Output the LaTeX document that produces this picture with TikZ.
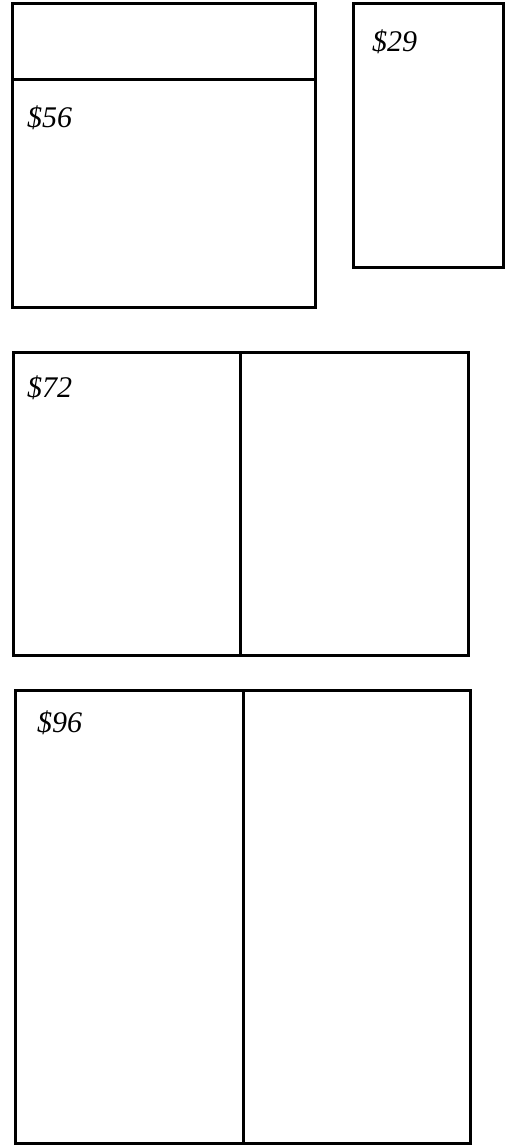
\documentclass[tikz,border=0pt]{standalone}
\usepackage{fontspec}
\setmainfont{Liberation Serif}
\usetikzlibrary{positioning}
\tikzstyle{panel} = [rectangle, draw=black, line width=3pt, inner sep=0pt]
\tikzstyle{price} = [anchor=base west, inner sep=0pt, font=\fontsize{30}{36}\selectfont\itshape]
\tikzstyle{divider} = [line width=3pt]

\begin{document}
\begin{tikzpicture}[x=1pt, y=-1pt]
        \useasboundingbox (0,0) rectangle (506,1147);
        \node (pa) [panel, minimum width=303pt, minimum height=303pt] at (163.5,155.5) {};
        \node (pb) [panel, minimum width=150pt, minimum height=264pt] at (428,136) {};
        \node (pc) [panel, minimum width=455pt, minimum height=303pt] at (240.5,503.5) {};
        \node (pd) [panel, minimum width=455pt, minimum height=453pt] at (242.5,916.5) {};
        
        \coordinate (ha) at (12,80);
        \coordinate (hb) at (315,80);
        \coordinate (vc) at (240,352);
        \coordinate (vd) at (243,690);
        \draw [divider] (ha) -- (hb);
        \draw [divider] (vc) -- (vc |- pc.south);
        \draw [divider] (vd) -- (vd |- pd.south);
        
        \node (la) [price] at (27,128) {\$56};
        \node (lb) [price] at (372,52) {\$29};
        \node (lc) [price] at (27,397) {\$72};
        \node (ld) [price] at (37,732) {\$96};
    \end{tikzpicture}
\end{document}
